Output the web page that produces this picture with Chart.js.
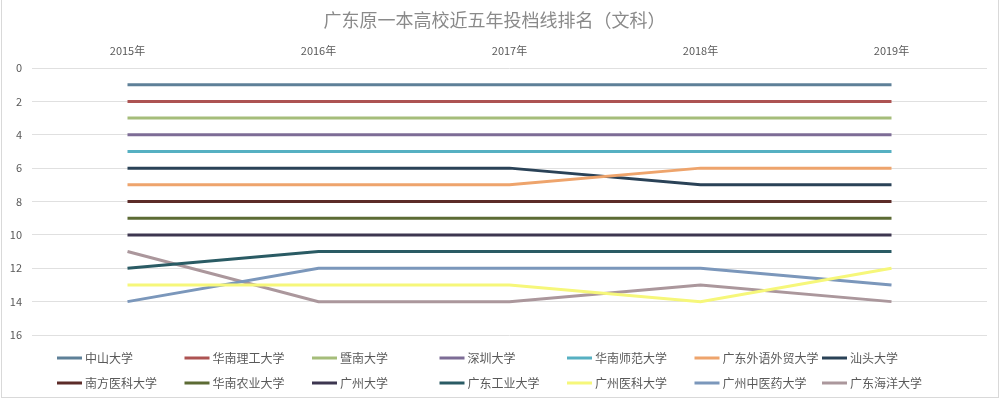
<!DOCTYPE html>
<html>
<head>
<meta charset="utf-8">
<script src="https://cdn.jsdelivr.net/npm/chart.js@4.4.1/dist/chart.umd.min.js"></script>
<style>
  html, body { margin: 0; padding: 0; background: #fff; }
  #wrap {
    position: absolute;
    left: 1px;
    top: -1px;
    width: 996px;
    height: 397px;
    border: 1px solid #d9d9d9;
  }
</style>
</head>
<body>
<div id="wrap"><canvas id="rankChart" width="996" height="397"></canvas></div>
<script>
const years = ["2015年", "2016年", "2017年", "2018年", "2019年"];

const schools = [
  "中山大学", "华南理工大学", "暨南大学", "深圳大学", "华南师范大学", "广东外语外贸大学", "汕头大学",
  "南方医科大学", "华南农业大学", "广州大学", "广东工业大学", "广州医科大学", "广州中医药大学", "广东海洋大学",
];

// rank per year, same order as schools
const zhongshan = [1, 1, 1, 1, 1];
const huananLigong = [2, 2, 2, 2, 2];
const jinan = [3, 3, 3, 3, 3];
const shenzhen = [4, 4, 4, 4, 4];
const huananShifan = [5, 5, 5, 5, 5];
const guangwai = [7, 7, 7, 6, 6];
const shantou = [6, 6, 6, 7, 7];
const nanfangYike = [8, 8, 8, 8, 8];
const huananNongye = [9, 9, 9, 9, 9];
const guangzhou = [10, 10, 10, 10, 10];
const guangdongGongye = [12, 11, 11, 11, 11];
const guangzhouYike = [13, 13, 13, 14, 12];
const guangzhouZhongyiyao = [14, 12, 12, 12, 13];
const guangdongHaiyang = [11, 14, 14, 13, 14];

const seriesValues = [
  zhongshan, huananLigong, jinan, shenzhen, huananShifan, guangwai, shantou,
  nanfangYike, huananNongye, guangzhou, guangdongGongye, guangzhouYike, guangzhouZhongyiyao, guangdongHaiyang,
];

const colors = [
  "#5e8098", "#ad5352", "#a5bd7a", "#7d6c96", "#56b0c2", "#eea46c", "#2a4257",
  "#5c2b28", "#5c6b34", "#3d3650", "#2a5b64", "#f6f77a", "#7b97bb", "#ab979c",
];

const FONT = "'Noto Sans CJK SC', 'Noto Sans', sans-serif";

// legend laid out in a fixed grid like the original
const gridLegend = {
  id: "gridLegend",
  afterDraw(chart) {
    const ctx = chart.ctx;
    ctx.save();
    ctx.font = "12px " + FONT;
    ctx.textBaseline = "middle";
    ctx.textAlign = "left";
    chart.data.datasets.forEach((ds, i) => {
      const col = i % 7;
      const row = Math.floor(i / 7);
      const x = 55 + col * 127.5;
      const y = 358 + row * 25;
      ctx.fillStyle = ds.borderColor;
      ctx.fillRect(x, y - 1.5, 25, 3);
      ctx.fillStyle = "#595959";
      ctx.fillText(ds.label, x + 28, y);
    });
    ctx.restore();
  },
};

const datasets = schools.map((name, i) => ({
  label: name,
  data: seriesValues[i],
  borderColor: colors[i],
  backgroundColor: colors[i],
  borderWidth: 3,
  pointRadius: 0,
  tension: 0,
  fill: false,
}));

new Chart(document.getElementById("rankChart"), {
  type: "line",
  data: { labels: years, datasets },
  plugins: [gridLegend],
  options: {
    responsive: false,
    animation: false,
    layout: { padding: { left: 0, right: 11, top: 0, bottom: 62 } },
    plugins: {
      legend: { display: false },
      tooltip: { enabled: false },
      title: {
        display: true,
        text: "广东原一本高校近五年投档线排名（文科）",
        color: "#8a8a8a",
        font: { family: FONT, size: 18, weight: "normal" },
        padding: { top: 9, bottom: 8 },
      },
    },
    scales: {
      x: {
        position: "top",
        offset: true,
        grid: { display: false },
        border: { display: false },
        ticks: { color: "#595959", font: { family: FONT, size: 11 }, padding: 3 },
        afterFit(scale) { scale.height = 29.4; },
      },
      y: {
        reverse: true,
        min: 0,
        max: 16,
        grid: { color: "#e0e0e0", drawTicks: false },
        border: { display: false },
        ticks: { stepSize: 2, color: "#595959", font: { family: FONT, size: 11 }, padding: 10 },
        afterFit(scale) { scale.width = 30; },
      },
    },
  },
});
</script>
</body>
</html>
